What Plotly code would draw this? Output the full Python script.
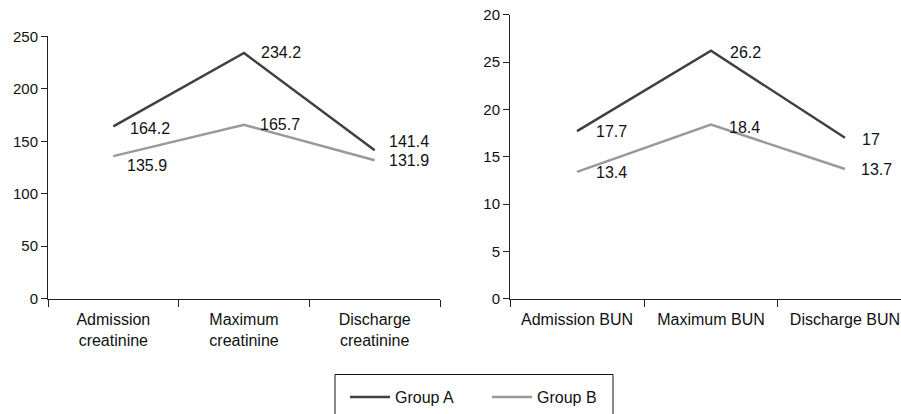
import plotly.graph_objects as go

# ---- data ----
creat_categories = ["Admission<br>creatinine", "Maximum<br>creatinine", "Discharge<br>creatinine"]
bun_categories = ["Admission BUN", "Maximum BUN", "Discharge BUN"]
creat_group_a = [164.2, 234.2, 141.4]
creat_group_b = [135.9, 165.7, 131.9]
bun_group_a = [17.7, 26.2, 17]
bun_group_b = [13.4, 18.4, 13.7]
creat_ticks = [0, 50, 100, 150, 200, 250]
bun_ticks = [0, 5, 10, 15, 20, 25, 30]
bun_ticktext = ["0", "5", "10", "15", "20", "25", "20"]

# label offsets (pixels) – style only
creat_a_shift = [(15, -2), (15, 1), (12, 9)]
creat_b_shift = [(12, -9), (14, 0), (12, 0)]
bun_a_shift = [(17, 0), (17, -2), (15, -2)]
bun_b_shift = [(17, -1), (16, -3), (14, -1)]

COL_A = "#404040"
COL_B = "#999999"
FONT = "Liberation Sans, Arial, sans-serif"
W, H = 901, 414

fig = go.Figure()
fig.add_trace(go.Scatter(x=creat_categories, y=creat_group_a, mode="lines", name="Group A",
                         line=dict(color=COL_A, width=2.5), xaxis="x", yaxis="y"))
fig.add_trace(go.Scatter(x=creat_categories, y=creat_group_b, mode="lines", name="Group B",
                         line=dict(color=COL_B, width=2.5), xaxis="x", yaxis="y"))
fig.add_trace(go.Scatter(x=bun_categories, y=bun_group_a, mode="lines", name="Group A",
                         line=dict(color=COL_A, width=2.5), xaxis="x2", yaxis="y2", showlegend=False))
fig.add_trace(go.Scatter(x=bun_categories, y=bun_group_b, mode="lines", name="Group B",
                         line=dict(color=COL_B, width=2.5), xaxis="x2", yaxis="y2", showlegend=False))

annotations = []
def add_labels(cats, vals, shifts, xref, yref):
    for c, v, (dx, dy) in zip(cats, vals, shifts):
        annotations.append(dict(x=c, y=v, xref=xref, yref=yref, text=str(v), showarrow=False,
                                xanchor="left", yanchor="middle", xshift=dx, yshift=dy,
                                font=dict(size=16, color="#111111", family=FONT)))

add_labels(creat_categories, creat_group_a, creat_a_shift, "x", "y")
add_labels(creat_categories, creat_group_b, creat_b_shift, "x", "y")
add_labels(bun_categories, bun_group_a, bun_a_shift, "x2", "y2")
add_labels(bun_categories, bun_group_b, bun_b_shift, "x2", "y2")

axis_common = dict(showgrid=False, zeroline=False, showline=True, linecolor="#222222", linewidth=1,
                   ticks="outside", tickcolor="#222222", automargin=False,
                   ticklabeloverflow="allow")
xfont = dict(size=16, color="#111111", family=FONT)
yfont = dict(size=15, color="#111111", family=FONT)

fig.update_layout(
    width=W, height=H,
    margin=dict(l=0, r=0, t=0, b=0, pad=0),
    paper_bgcolor="white", plot_bgcolor="white",
    font=dict(family=FONT, size=16, color="#111111"),
    xaxis=dict(domain=[48 / W, 440 / W], type="category", range=[-0.5, 2.5], ticklen=7,
               ticklabelstandoff=6, tickson="boundaries", anchor="y", tickfont=xfont, **axis_common),
    yaxis=dict(domain=[111 / H, 377 / H], range=[0, 250], tickvals=creat_ticks, ticklen=6,
               anchor="x", tickfont=yfont, **axis_common),
    xaxis2=dict(domain=[510 / W, 1.0], type="category", range=[-0.5, 2.418], ticklen=7,
                ticklabelstandoff=6, tickson="boundaries", anchor="y2", tickfont=xfont, **axis_common),
    yaxis2=dict(domain=[111 / H, 399 / H], range=[0, 30], tickvals=bun_ticks, ticktext=bun_ticktext,
                ticklen=6, anchor="x2", tickfont=yfont, **axis_common),
    showlegend=True,
    legend=dict(orientation="h", x=345 / W, xanchor="left", y=28 / H, yanchor="top",
                borderwidth=0, bgcolor="rgba(0,0,0,0)",
                font=dict(size=16, family=FONT, color="#111111"), itemwidth=40,
                entrywidth=87),
    shapes=[dict(type="rect", xref="paper", yref="paper", x0=335 / W, x1=613 / W,
                 y0=-0.1, y1=34 / H, line=dict(color="#111111", width=1),
                 fillcolor="rgba(0,0,0,0)", layer="below")],
    annotations=annotations,
)

fig.write_html("out.html", config={"displayModeBar": False},
               post_script="document.body.style.margin='0';document.body.style.overflow='hidden';")
